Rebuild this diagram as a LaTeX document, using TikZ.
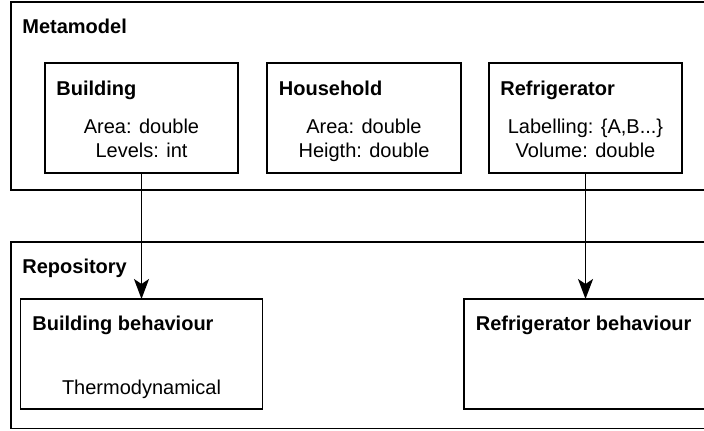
\documentclass[tikz,border=0pt]{standalone}
\usepackage{fontspec}
\setmainfont{Liberation Sans}
\usetikzlibrary{arrows.meta}

\begin{document}
\begin{tikzpicture}[x=0.5pt,y=-0.5pt,
    box/.style={draw=black, line width=0.8pt, inner sep=0pt, outer sep=0pt, minimum height=55pt},
    title/.style={font=\bfseries, anchor=base west, inner sep=0pt},
    attr/.style={anchor=base, inner sep=0pt},
    arr/.style={-{Stealth[length=10pt,width=7.5pt,inset=2.5pt]}, line width=0.9pt}]
    \useasboundingbox (0,0) rectangle (704,430);
    % metamodel
    \draw [black, line width=0.8pt] (11,2) rectangle (730,190);
    \node[title] (metaT) at (22,33) {Metamodel};
    \node[box, minimum width=96.5pt] (building) at (141.5,118) {};
    \node[title] (buildingT) at (56,95) {Building};
    \node[attr] (bArea) at (141.5,133) {Area: double};
    \node[attr] (bLevels) at (141.5,157) {Levels: int};
    \node[box, minimum width=97pt] (household) at (364,118) {};
    \node[title] (householdT) at (278.5,95) {Household};
    \node[attr] (hArea) at (364,133) {Area: double};
    \node[attr] (hHeigth) at (364,157) {Heigth: double};
    \node[box, minimum width=96.5pt] (fridge) at (585.5,118) {};
    \node[title] (fridgeT) at (500,95) {Refrigerator};
    \node[attr] (fLabel) at (585.5,133) {Labelling: \{A,B...\}};
    \node[attr] (fVolume) at (585.5,157) {Volume: double};
    % repository
    \draw [black, line width=0.8pt] (11,242) rectangle (730,428.5);
    \node[title] (repoT) at (22,273) {Repository};
    \node[box, minimum width=121pt] (buildingB) at (141.5,354) {};
    \node[title] (buildingBT) at (32,330) {Building behaviour};
    \node[attr] (thermo) at (141.5,394) {Thermodynamical};
    \node[box, minimum width=133pt] (fridgeB) at (597,354) {};
    \node[title] (fridgeBT) at (475.5,330) {Refrigerator behaviour};
    % links
    \draw[arr] (building.south) -- (buildingB.north);
    \draw[arr] (fridge.south) -- (fridge.south |- fridgeB.north);
\end{tikzpicture}
\end{document}
